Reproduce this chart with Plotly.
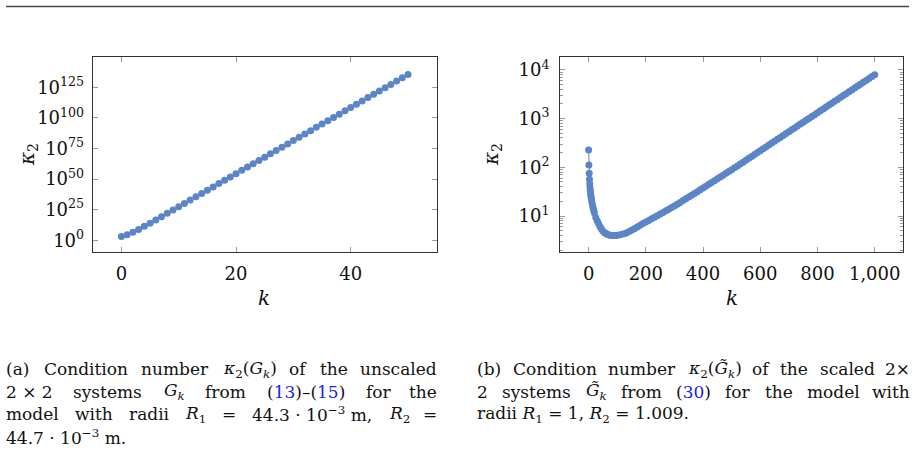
import re
import plotly.graph_objects as go

# ---------------- data ----------------
k_a = list(range(0, 51))
kappa_a = [1.0e3, 4.0e4, 4.0e6, 7.9e8, 2.5e11, 1.0e14, 4.0e16, 2.0e19, 1.0e22, 5.0e24,
           2.5e27, 1.26e30, 6.3e32, 3.16e35, 1.58e38, 7.9e40, 4.0e43, 2.0e46, 1.0e49, 5.0e51,
           2.5e54, 1.26e57, 6.3e59, 3.16e62, 1.58e65, 7.9e67, 4.0e70, 2.0e73, 1.0e76, 5.0e78,
           2.5e81, 1.26e84, 6.3e86, 3.16e89, 1.58e92, 7.9e94, 4.0e97, 2.0e100, 1.0e103, 5.0e105,
           2.5e108, 1.26e111, 6.3e113, 3.16e116, 1.58e119, 7.9e121, 4.0e124, 2.0e127, 1.0e130, 5.0e132,
           2.5e135]

k_b = list(range(0, 11)) + list(range(12, 21, 2)) + list(range(25, 101, 5)) + list(range(110, 1001, 10))
kappa_b = [226, 111, 75, 57, 46, 38.5, 33.2, 29.2, 26.1, 23.6, 21.6,
           18.4, 16.1, 14.4, 13.0, 11.6,
           9.3, 8.0, 6.9, 6.0, 5.4, 4.9, 4.6, 4.35, 4.2, 4.1, 4.03, 4.0, 3.98, 3.98, 4.0, 4.03,
           4.1, 4.25, 4.45, 4.75, 5.1, 5.5, 5.95, 6.45, 7.0, 7.55, 8.1, 8.75, 9.4, 10.15, 10.95,
           11.8, 12.75, 13.8, 14.9, 16.1, 17.5, 19.0, 20.7, 22.5, 24.5, 26.7, 29.0, 31.6, 34.4,
           37.5, 40.9, 44.6, 48.6, 53.0, 57.9, 63.2, 69.0, 75.4, 82.4,
           89.1, 97.5, 106.7, 116.7, 127.6, 139.6, 152.8, 167.1, 182.8, 200,
           218.8, 239.4, 261.9, 286.5, 313.4, 342.8, 375, 410.3, 448.8, 491,
           537, 587.5, 642.7, 703.1, 769.2, 841.5, 920.6, 1007, 1102, 1205,
           1318, 1442, 1578, 1726, 1888, 2066, 2260, 2472, 2705, 2959,
           3236, 3540, 3873, 4237, 4635, 5071, 5548, 6069, 6640, 7264,
           7900]

xticks_a = [0, 20, 40]
yticks_a = [1e0, 1e25, 1e50, 1e75, 1e100, 1e125]
yticktext_a = ["10<sup>0</sup>", "10<sup>25</sup>", "10<sup>50</sup>", "10<sup>75</sup>",
               "10<sup>100</sup>", "10<sup>125</sup>"]
xticks_b = [0, 200, 400, 600, 800, 1000]
xticktext_b = ["0", "200", "400", "600", "800", "1,000"]
yticks_b = [1e1, 1e2, 1e3, 1e4]
yticktext_b = ["10<sup>1</sup>", "10<sup>2</sup>", "10<sup>3</sup>", "10<sup>4</sup>"]

BL = '<span style="color:#2020ee">'
caption_a_lines = [
    ["(a)", "Condition", "number", "<i>κ</i><sub>2</sub>(<i>G<sub>k</sub></i>)", "of", "the", "unscaled"],
    ["2 × 2", "systems", "<i>G<sub>k</sub></i>", "from",
     "(" + BL + "13</span>)–(" + BL + "15</span>)", "for", "the"],
    ["model", "with", "radii", "<i>R</i><sub>1</sub>", "=", "44.3 · 10<sup>−3</sup> m,",
     "<i>R</i><sub>2</sub>", "="],
]
caption_a_last = "44.7 · 10<sup>−3</sup> m."
caption_b_lines = [
    ["(b)", "Condition", "number", "<i>κ</i><sub>2</sub>(<i>G̃<sub>k</sub></i>)", "of", "the",
     "scaled", "2×"],
    ["2", "systems", "<i>G̃<sub>k</sub></i>", "from", "(" + BL + "30</span>)", "for", "the",
     "model", "with"],
]
caption_b_last = "radii <i>R</i><sub>1</sub> = 1, <i>R</i><sub>2</sub> = 1.009."

# ---------------- style ----------------
W, H = 915, 463
BLUE = "#5b85c6"
FONT = "DejaVu Serif"
TXT = "#111"
TICKFONT = dict(family=FONT, size=18, color=TXT)
CAPSIZE = 17

# approximate DejaVu Serif advance widths (em), used only to space justified words
CW = {' ': .318, 'a': .596, 'b': .640, 'c': .560, 'd': .640, 'e': .592, 'f': .371, 'g': .640,
      'h': .644, 'i': .321, 'k': .605, 'l': .321, 'm': .966, 'n': .644, 'o': .602, 'r': .478,
      's': .513, 't': .402, 'u': .644, 'w': .854, 'y': .580, 'x': .564, 'C': .717, 'G': .776,
      'R': .738, '(': .390, ')': .390, '.': .318, ',': .318, '=': .838, '×': .838, '–': .5,
      '·': .318, '−': .838, 'κ': .62, '\u0303': 0.0}
for d in "0123456789":
    CW[d] = .636


def text_width(s, size):
    w = 0.0
    depth = 0
    for part in re.split(r"(<[^>]+>)", s):
        if part.startswith("<"):
            tag = part.strip("<>/ ").split()[0]
            if tag in ("sub", "sup"):
                depth += -1 if part.startswith("</") else 1
            continue
        scale = 0.7 ** depth
        for ch in part:
            w += CW.get(ch, .6) * size * scale
    return w


def px(x):
    return x / W


def py(y):
    return 1 - y / H


fig = go.Figure()
fig.add_trace(go.Scatter(x=k_a, y=kappa_a, mode="lines+markers",
                         line=dict(color=BLUE, width=1),
                         marker=dict(color=BLUE, size=7),
                         xaxis="x", yaxis="y", showlegend=False))
fig.add_trace(go.Scatter(x=k_b, y=kappa_b, mode="lines+markers",
                         line=dict(color=BLUE, width=1),
                         marker=dict(color=BLUE, size=7),
                         xaxis="x2", yaxis="y2", showlegend=False))

common = dict(showline=True, linecolor="#333", linewidth=1, mirror="ticks",
              ticks="inside", ticklen=5, tickcolor="#999", tickwidth=1,
              showgrid=False, zeroline=False, tickfont=TICKFONT)

ydom = [py(252.3), py(56.7)]
fig.update_layout(
    width=W, height=H, margin=dict(l=0, r=0, t=0, b=0),
    paper_bgcolor="white", plot_bgcolor="white",
    xaxis=dict(domain=[px(92.7), px(436.7)], range=[-5, 55], anchor="y",
               tickmode="array", tickvals=xticks_a, ticklabelstandoff=5, **common),
    yaxis=dict(domain=ydom, type="log", range=[-9.8, 149.9], anchor="x",
               tickmode="array", tickvals=yticks_a, ticktext=yticktext_a,
               ticklabelstandoff=4, **common),
    xaxis2=dict(domain=[px(560), px(903.3)], range=[-100, 1100], anchor="y2",
                tickmode="array", tickvals=xticks_b, ticktext=xticktext_b,
                ticklabelstandoff=5, **common),
    yaxis2=dict(domain=ydom, type="log", range=[0.255, 4.27], anchor="x2",
                tickmode="array", tickvals=yticks_b, ticktext=yticktext_b,
                ticklabelstandoff=6,
                minor=dict(ticks="inside", ticklen=3, tickcolor="#999", dtick="D1"),
                **common),
)

ann = []
# axis titles
for xx in (28, 492):
    ann.append(dict(x=px(xx), y=py(155), text="<i>κ</i><sub>2</sub>", textangle=-90,
                    font=dict(family=FONT, size=20, color=TXT)))
for xx in (264, 732):
    ann.append(dict(x=px(xx), y=py(298), text="<i>k</i>",
                    font=dict(family=FONT, size=20, color=TXT)))

line_y = [369, 391.5, 414, 436.5]


def add_justified(lines, last, left, right):
    for li, words in enumerate(lines):
        widths = [text_width(w, CAPSIZE) for w in words]
        gap = (right - left - sum(widths)) / (len(words) - 1)
        x = left
        for wi, (w, ww) in enumerate(zip(words, widths)):
            if wi == len(words) - 1:
                ann.append(dict(x=px(right), y=py(line_y[li]), text=w, xanchor="right",
                                font=dict(family=FONT, size=CAPSIZE, color=TXT)))
            else:
                ann.append(dict(x=px(x), y=py(line_y[li]), text=w, xanchor="left",
                                font=dict(family=FONT, size=CAPSIZE, color=TXT)))
            x += ww + gap
    ann.append(dict(x=px(left), y=py(line_y[len(lines)]), text=last, xanchor="left",
                    font=dict(family=FONT, size=CAPSIZE, color=TXT)))


add_justified(caption_a_lines, caption_a_last, 5, 438)
add_justified(caption_b_lines, caption_b_last, 476, 911)

for a in ann:
    a.update(xref="paper", yref="paper", showarrow=False, borderpad=0)
    a.setdefault("xanchor", "center")
    a.setdefault("yanchor", "middle")
fig.update_layout(annotations=ann)

fig.add_shape(type="line", xref="paper", yref="paper",
              x0=px(6), x1=px(909), y0=py(6.5), y1=py(6.5),
              line=dict(color="#444", width=1.3))

fig.write_html("out.html")
